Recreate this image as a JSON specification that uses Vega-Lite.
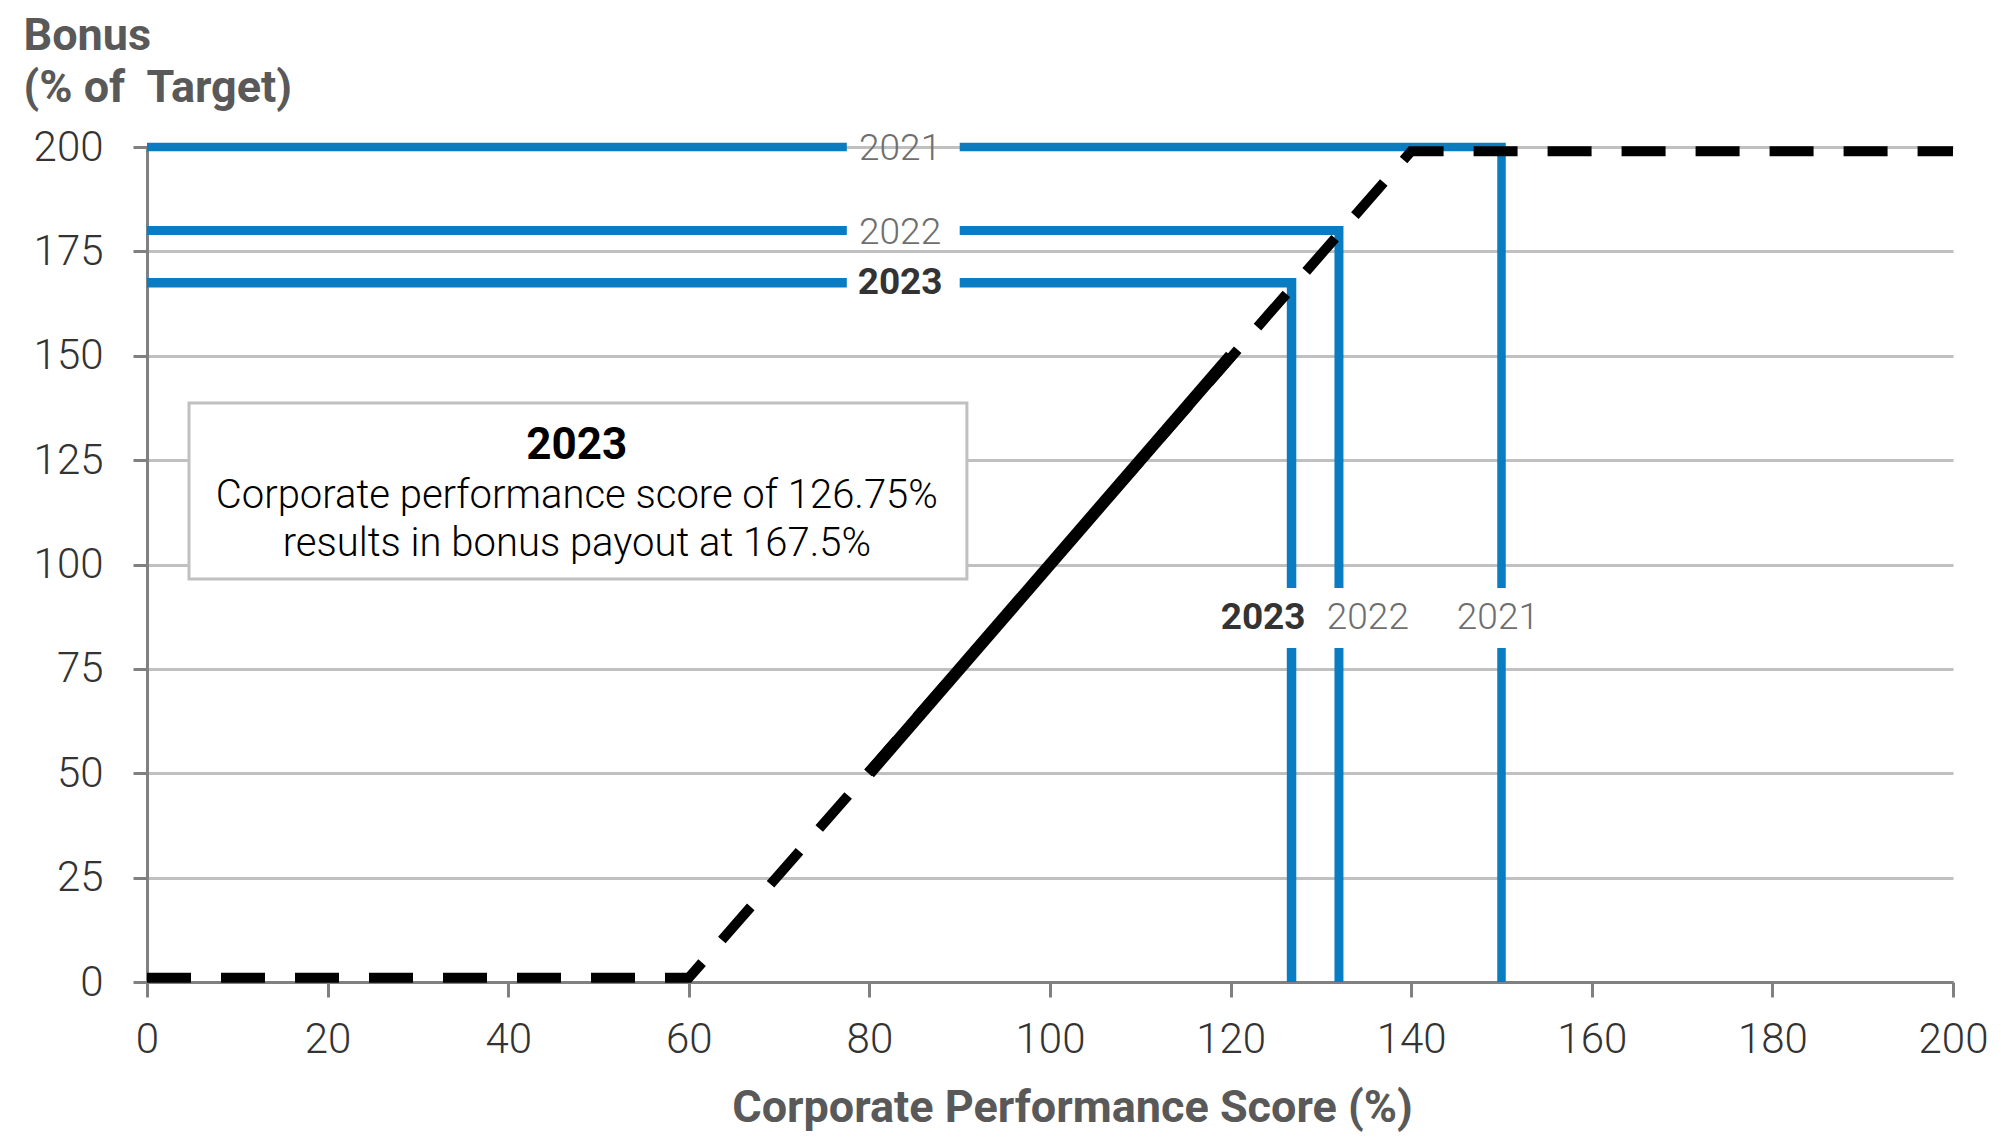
{
  "$schema": "https://vega.github.io/schema/vega-lite/v6.json",
  "width": 1806,
  "height": 835,
  "autosize": {"type": "none"},
  "padding": {"left": 147, "top": 147, "right": 48, "bottom": 158},
  "background": "white",
  "config": {"view": {"stroke": null}, "font": "Roboto"},
  "datasets": {
    "blue": [
      {"year": "2021", "seg": "2021a", "ord": 1, "x": 0, "y": 200},
      {"year": "2021", "seg": "2021a", "ord": 2, "x": 77.5, "y": 200},
      {"year": "2021", "seg": "2021b", "ord": 1, "x": 90, "y": 200},
      {"year": "2021", "seg": "2021b", "ord": 2, "x": 150, "y": 200},
      {"year": "2021", "seg": "2021b", "ord": 3, "x": 150, "y": 94.4},
      {"year": "2021", "seg": "2021c", "ord": 1, "x": 150, "y": 80},
      {"year": "2021", "seg": "2021c", "ord": 2, "x": 150, "y": 0},
      {"year": "2022", "seg": "2022a", "ord": 1, "x": 0, "y": 180},
      {"year": "2022", "seg": "2022a", "ord": 2, "x": 77.5, "y": 180},
      {"year": "2022", "seg": "2022b", "ord": 1, "x": 90, "y": 180},
      {"year": "2022", "seg": "2022b", "ord": 2, "x": 132, "y": 180},
      {"year": "2022", "seg": "2022b", "ord": 3, "x": 132, "y": 94.4},
      {"year": "2022", "seg": "2022c", "ord": 1, "x": 132, "y": 80},
      {"year": "2022", "seg": "2022c", "ord": 2, "x": 132, "y": 0},
      {"year": "2023", "seg": "2023a", "ord": 1, "x": 0, "y": 167.5},
      {"year": "2023", "seg": "2023a", "ord": 2, "x": 77.5, "y": 167.5},
      {"year": "2023", "seg": "2023b", "ord": 1, "x": 90, "y": 167.5},
      {"year": "2023", "seg": "2023b", "ord": 2, "x": 126.75, "y": 167.5},
      {"year": "2023", "seg": "2023b", "ord": 3, "x": 126.75, "y": 94.4},
      {"year": "2023", "seg": "2023c", "ord": 1, "x": 126.75, "y": 80},
      {"year": "2023", "seg": "2023c", "ord": 2, "x": 126.75, "y": 0}
    ],
    "curve": [
      {"ord": 1, "x": 0, "y": 1},
      {"ord": 2, "x": 60, "y": 1},
      {"ord": 3, "x": 140, "y": 199},
      {"ord": 4, "x": 200, "y": 199}
    ],
    "target": [
      {"ord": 1, "x": 80, "y": 50},
      {"ord": 2, "x": 120, "y": 150}
    ],
    "labels": [
      {"year": "2021", "x": 83.4, "y": 199.5},
      {"year": "2022", "x": 83.4, "y": 179.5},
      {"year": "2023", "x": 83.4, "y": 167.5},
      {"year": "2021", "x": 149.6, "y": 87.3},
      {"year": "2022", "x": 135.2, "y": 87.3},
      {"year": "2023", "x": 123.6, "y": 87.3}
    ],
    "box": [
      {"x": 4.65, "x2": 90.8, "y": 96.5, "y2": 138.7}
    ],
    "notetitle": [
      {"x": 47.6, "y": 125.3, "text": "2023"}
    ],
    "notebody": [
      {"x": 47.6, "y": 113.5, "text": "Corporate performance score of 126.75%"},
      {"x": 47.6, "y": 102, "text": "results in bonus payout at 167.5%"}
    ]
  },
  "layer": [
    {
      "data": {"name": "blue"},
      "mark": {"type": "line", "strokeCap": "butt", "strokeJoin": "miter", "color": "#0a7dc2"},
      "encoding": {
        "x": {
          "field": "x", "type": "quantitative",
          "scale": {"domain": [0, 200], "nice": false, "zero": false},
          "axis": {
            "values": [0, 20, 40, 60, 80, 100, 120, 140, 160, 180, 200],
            "title": "Corporate Performance Score (%)",
            "grid": false,
            "domainColor": "#808080", "domainWidth": 3,
            "tickColor": "#808080", "tickWidth": 3, "tickSize": 15,
            "labelFont": "Roboto", "labelFontWeight": 300, "labelFontSize": 42,
            "labelColor": "#333333", "labelPadding": 22, "labelFlush": false, "labelOverlap": false,
            "titleFont": "Roboto", "titleFontSize": 45, "titleFontWeight": "bold", "titleColor": "#595959",
            "titleX": 925, "titleY": 139, "titleBaseline": "alphabetic"
          }
        },
        "y": {
          "field": "y", "type": "quantitative",
          "scale": {"domain": [0, 200], "nice": false},
          "axis": {
            "values": [0, 25, 50, 75, 100, 125, 150, 175, 200],
            "title": ["Bonus", "(% of\u00a0 Target)"],
            "grid": true, "gridColor": "#c0c0c0", "gridWidth": 3,
            "domainColor": "#808080", "domainWidth": 3,
            "tickColor": "#808080", "tickWidth": 3, "tickSize": 14,
            "labelFont": "Roboto", "labelFontWeight": 300, "labelFontSize": 42,
            "labelColor": "#333333", "labelPadding": 30, "labelFlush": false, "labelOverlap": false,
            "titleFont": "Roboto", "titleFontSize": 45, "titleFontWeight": "bold", "titleColor": "#595959",
            "titleAngle": 0, "titleAlign": "left", "titleBaseline": "alphabetic",
            "titleX": -124, "titleY": -98, "titleLineHeight": 52
          }
        },
        "detail": {"field": "seg"},
        "order": {"field": "ord", "type": "quantitative"},
        "strokeWidth": {
          "field": "year", "type": "nominal",
          "scale": {"domain": ["2021", "2022", "2023"], "range": [8.5, 9.5, 13]},
          "legend": null
        }
      }
    },
    {
      "data": {"name": "curve"},
      "mark": {"type": "line", "color": "#000000", "strokeWidth": 10, "strokeDash": [44, 30], "strokeCap": "butt", "strokeJoin": "miter"},
      "encoding": {
        "x": {"field": "x", "type": "quantitative"},
        "y": {"field": "y", "type": "quantitative"},
        "order": {"field": "ord", "type": "quantitative"}
      }
    },
    {
      "data": {"name": "target"},
      "mark": {"type": "line", "color": "#000000", "strokeWidth": 12, "strokeCap": "butt"},
      "encoding": {
        "x": {"field": "x", "type": "quantitative"},
        "y": {"field": "y", "type": "quantitative"},
        "order": {"field": "ord", "type": "quantitative"}
      }
    },
    {
      "data": {"name": "labels"},
      "transform": [{"filter": "datum.year != '2023'"}],
      "mark": {"type": "text", "font": "Roboto", "fontWeight": 300, "fontSize": 37, "color": "#6e6e6e", "align": "center", "baseline": "middle"},
      "encoding": {
        "x": {"field": "x", "type": "quantitative"},
        "y": {"field": "y", "type": "quantitative"},
        "text": {"field": "year"}
      }
    },
    {
      "data": {"name": "labels"},
      "transform": [{"filter": "datum.year == '2023'"}],
      "mark": {"type": "text", "font": "Roboto", "fontWeight": "bold", "fontSize": 37, "color": "#333333", "align": "center", "baseline": "middle"},
      "encoding": {
        "x": {"field": "x", "type": "quantitative"},
        "y": {"field": "y", "type": "quantitative"},
        "text": {"field": "year"}
      }
    },
    {
      "data": {"name": "box"},
      "mark": {"type": "rect", "fill": "#ffffff", "stroke": "#c0c0c0", "strokeWidth": 3},
      "encoding": {
        "x": {"field": "x", "type": "quantitative"},
        "x2": {"field": "x2"},
        "y": {"field": "y", "type": "quantitative"},
        "y2": {"field": "y2"}
      }
    },
    {
      "data": {"name": "notetitle"},
      "mark": {"type": "text", "font": "Roboto", "fontWeight": "bold", "fontSize": 44, "color": "#000000", "align": "center", "baseline": "alphabetic"},
      "encoding": {
        "x": {"field": "x", "type": "quantitative"},
        "y": {"field": "y", "type": "quantitative"},
        "text": {"field": "text"}
      }
    },
    {
      "data": {"name": "notebody"},
      "mark": {"type": "text", "font": "Roboto", "fontWeight": 300, "fontSize": 40, "color": "#000000", "align": "center", "baseline": "alphabetic"},
      "encoding": {
        "x": {"field": "x", "type": "quantitative"},
        "y": {"field": "y", "type": "quantitative"},
        "text": {"field": "text"}
      }
    }
  ]
}
